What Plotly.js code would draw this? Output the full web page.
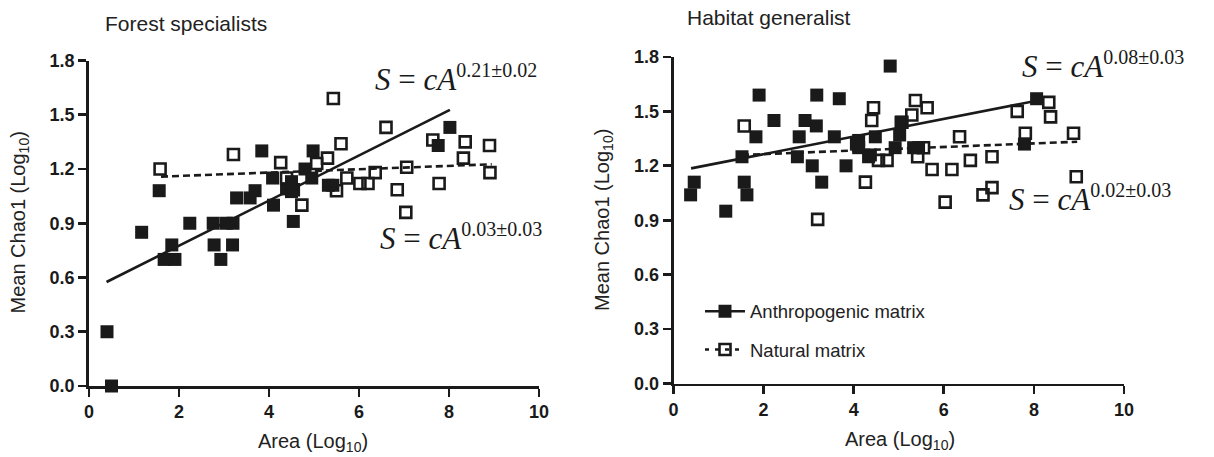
<!DOCTYPE html>
<html>
<head>
<meta charset="utf-8">
<script src="https://cdn.plot.ly/plotly-3.0.1.min.js"></script>
<style>html,body{margin:0;padding:0;background:#fff;}#chart{width:1214px;height:457px;}</style>
</head>
<body>
<div id="chart"></div>
<script>
// ---- Forest specialists ----
const forestAnthX = [0.40,0.50,1.17,1.56,1.67,1.84,1.91,2.24,2.76,2.78,2.93,3.05,3.20,3.19,3.28,3.58,3.69,3.84,4.08,4.10,4.39,4.50,4.54,4.50,4.80,4.95,4.98,5.32,5.42,7.76,8.02];
const forestAnthY = [0.30,0.00,0.85,1.08,0.70,0.78,0.70,0.90,0.90,0.78,0.70,0.90,0.90,0.78,1.04,1.04,1.08,1.30,1.15,1.00,1.09,1.13,0.91,1.075,1.20,1.15,1.30,1.11,1.11,1.33,1.43];
const forestNatX = [1.58,3.21,4.26,4.39,4.54,4.73,5.06,5.30,5.43,5.60,5.50,5.73,6.02,6.20,6.36,6.60,6.85,7.04,7.06,7.64,7.78,8.32,8.36,8.90,8.91];
const forestNatY = [1.20,1.28,1.235,1.15,1.085,1.00,1.23,1.26,1.59,1.34,1.08,1.15,1.12,1.12,1.18,1.43,1.085,0.96,1.21,1.36,1.12,1.26,1.35,1.33,1.18];
const forestAnthFitX = [0.39, 8.02];
const forestAnthFitY = [0.575, 1.527];
const forestNatFitX = [1.60, 8.95];
const forestNatFitY = [1.158, 1.226];

// ---- Habitat generalist ----
const habAnthX = [0.38,0.46,1.16,1.52,1.57,1.63,1.83,1.90,2.23,2.75,2.79,2.92,3.08,3.17,3.18,3.29,3.57,3.68,3.83,4.06,4.11,4.11,4.33,4.37,4.48,4.81,4.92,5.02,5.05,5.33,5.44,7.79,8.06];
const habAnthY = [1.04,1.11,0.95,1.25,1.11,1.04,1.36,1.59,1.45,1.25,1.36,1.45,1.20,1.42,1.59,1.11,1.36,1.57,1.20,1.32,1.30,1.34,1.25,1.26,1.36,1.75,1.30,1.37,1.44,1.30,1.30,1.32,1.57];
const habNatX = [1.57,3.20,4.26,4.40,4.44,4.55,4.74,5.07,5.29,5.37,5.42,5.55,5.63,5.74,6.03,6.18,6.35,6.59,6.87,7.07,7.07,7.63,7.81,8.33,8.37,8.88,8.94];
const habNatY = [1.42,0.905,1.11,1.45,1.52,1.23,1.23,1.44,1.48,1.56,1.25,1.30,1.52,1.18,1.00,1.18,1.36,1.23,1.04,1.08,1.25,1.50,1.38,1.55,1.47,1.38,1.14];
const habAnthFitX = [0.39, 8.06];
const habAnthFitY = [1.186, 1.559];
const habNatFitX = [1.52, 8.96];
const habNatFitY = [1.26, 1.333];

const xTicks = [0,2,4,6,8,10];
const yTicks = [0,0.3,0.6,0.9,1.2,1.5,1.8];
const panelTitles = ["Forest specialists", "Habitat generalist"];
const seriesNames = ["Anthropogenic matrix", "Natural matrix"];
const eqForest = ["0.21±0.02", "0.03±0.03"];
const eqHabitat = ["0.08±0.03", "0.02±0.03"];

const INK = '#1a1a1a';
const W = 1214, H = 457;
const px = v => v / W;
const py = v => (H - v) / H;

const filledMarker = {symbol:'square', size:13, color:INK, line:{width:0}};
const openMarker = {symbol:'square-open', size:11, color:INK, line:{width:2.6, color:INK}};
const solidLine = {color:INK, width:2.6};
const dashLine = {color:INK, width:2.6, dash:'7px,4px'};

function pts(x,y,xa,ya,marker){return {type:'scatter',mode:'markers',x:x,y:y,xaxis:xa,yaxis:ya,marker:marker,showlegend:false,cliponaxis:false,hoverinfo:'skip'};}
function fit(x,y,xa,ya,line){return {type:'scatter',mode:'lines',x:x,y:y,xaxis:xa,yaxis:ya,line:line,showlegend:false,cliponaxis:false,hoverinfo:'skip'};}

const traces = [
  pts(forestAnthX, forestAnthY, 'x', 'y', filledMarker),
  pts(forestNatX, forestNatY, 'x', 'y', openMarker),
  fit(forestAnthFitX, forestAnthFitY, 'x', 'y', solidLine),
  fit(forestNatFitX, forestNatFitY, 'x', 'y', dashLine),
  pts(habAnthX, habAnthY, 'x2', 'y2', filledMarker),
  pts(habNatX, habNatY, 'x2', 'y2', openMarker),
  fit(habAnthFitX, habAnthFitY, 'x2', 'y2', solidLine),
  fit(habNatFitX, habNatFitY, 'x2', 'y2', dashLine),
  // legend entries
  {type:'scatter', mode:'lines+markers', x:[null], y:[null], xaxis:'x2', yaxis:'y2', name:seriesNames[0], marker:filledMarker, line:solidLine, legend:'legend', showlegend:true},
  {type:'scatter', mode:'lines+markers', x:[null], y:[null], xaxis:'x2', yaxis:'y2', name:seriesNames[1], marker:openMarker, line:{color:INK,width:2.6,dash:'4px,6px'}, legend:'legend2', showlegend:true}
];

const sans = 'Liberation Sans, Arial, sans-serif';
const serif = 'Liberation Serif, Times New Roman, serif';
const tickFont = {family:sans, size:18, color:INK, weight:'bold'};

function xAxis(domain, anchor){
  return {domain:domain, anchor:anchor, range:[0,10], tickvals:xTicks, ticktext:xTicks.map(String),
    showline:true, linecolor:INK, linewidth:2.8, ticks:'outside', ticklen:8, tickwidth:2.8, tickcolor:INK,
    showgrid:false, zeroline:false, tickfont:tickFont, fixedrange:true};
}
function yAxis(domain, anchor){
  return {domain:domain, anchor:anchor, range:[0,1.8], tickvals:yTicks, tickformat:'.1f',
    showline:true, linecolor:INK, linewidth:2.8, ticks:'outside', ticklen:8, tickwidth:2.8, tickcolor:INK,
    showgrid:false, zeroline:false, tickfont:tickFont, fixedrange:true};
}

function eq(x, yc, exp){
  return {xref:'paper', yref:'paper', x:px(x), y:py(yc), xanchor:'left', yanchor:'middle', showarrow:false,
    text:'<i>S</i> = <i>cA</i><sup><span style="font-size:20px">'+exp+'</span></sup>', font:{family:serif, size:31, color:INK}};
}
function txt(x, y, t, opts){
  return Object.assign({xref:'paper', yref:'paper', x:px(x), y:py(y), showarrow:false, text:t,
    font:{family:sans, size:20, color:'#222'}}, opts||{});
}

const layout = {
  width:W, height:H, margin:{l:0,r:0,t:0,b:0}, paper_bgcolor:'#fff', plot_bgcolor:'rgba(0,0,0,0)',
  showlegend:true,
  xaxis: xAxis([px(89), px(539)], 'y'),
  yaxis: yAxis([py(386), py(60.5)], 'x'),
  xaxis2: xAxis([px(673.5), px(1124)], 'y2'),
  yaxis2: yAxis([py(383.5), py(57)], 'x2'),
  legend:{x:px(700), y:py(311.7), xanchor:'left', yanchor:'middle', bgcolor:'rgba(0,0,0,0)', font:{family:sans, size:18.5, color:'#222'}, itemwidth:40},
  legend2:{x:px(700), y:py(350), xanchor:'left', yanchor:'middle', bgcolor:'rgba(0,0,0,0)', font:{family:sans, size:18.5, color:'#222'}, itemwidth:40},
  annotations:[
    txt(103, 23, panelTitles[0], {xanchor:'left', yanchor:'middle', font:{family:sans, size:21, color:'#222'}}),
    txt(685, 18, panelTitles[1], {xanchor:'left', yanchor:'middle', font:{family:sans, size:21, color:'#222'}}),
    txt(19.5, 223, 'Mean Chao1 (Log<sub>10</sub>)', {textangle:-90, xanchor:'center', yanchor:'middle'}),
    txt(604, 220, 'Mean Chao1 (Log<sub>10</sub>)', {textangle:-90, xanchor:'center', yanchor:'middle'}),
    txt(313, 442, 'Area (Log<sub>10</sub>)', {xanchor:'center', yanchor:'middle'}),
    txt(900, 440, 'Area (Log<sub>10</sub>)', {xanchor:'center', yanchor:'middle'}),
    eq(373, 78, eqForest[0]),
    eq(378, 237, eqForest[1]),
    eq(1020, 65, eqHabitat[0]),
    eq(1007, 198, eqHabitat[1])
  ]
};

Plotly.newPlot('chart', traces, layout, {staticPlot:true, displayModeBar:false});
</script>
</body>
</html>
